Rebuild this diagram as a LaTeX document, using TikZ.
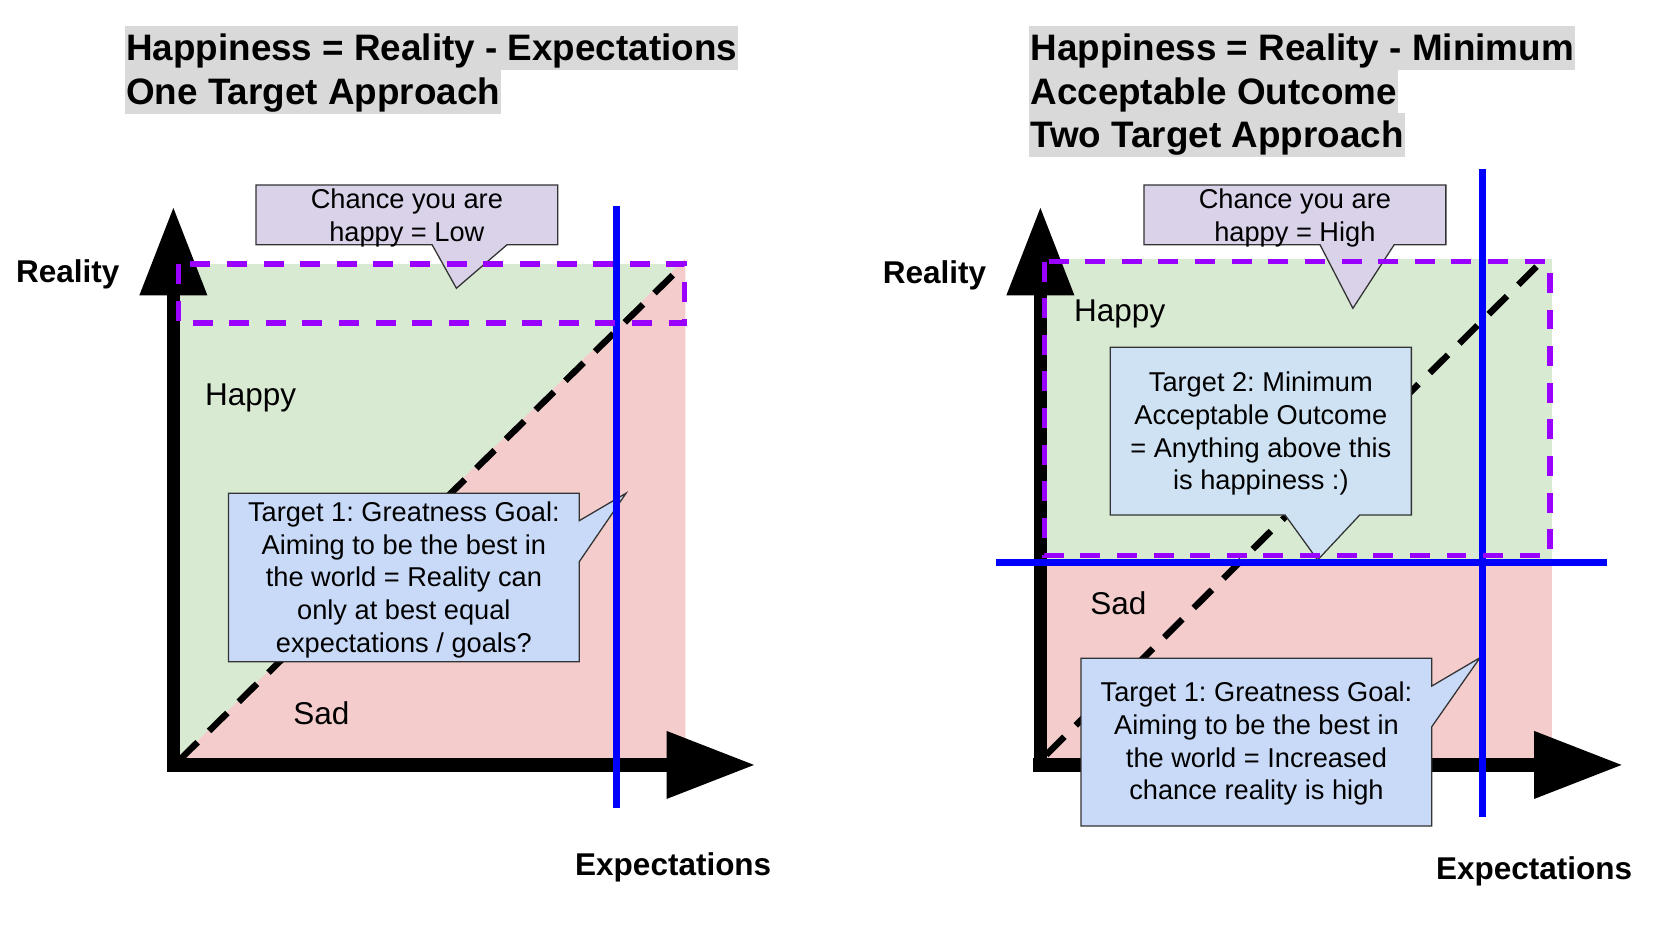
\documentclass[tikz,border=0pt]{standalone}
\usepackage{fontspec}
\setmainfont{Liberation Sans}
\usetikzlibrary{arrows.meta}
\frenchspacing
\definecolor{happyg}{HTML}{D9EAD3}
\definecolor{sadp}{HTML}{F4CCCC}
\definecolor{calpurp}{HTML}{D9D2E9}
\definecolor{calblue}{HTML}{C9DAF8}
\definecolor{calblueb}{HTML}{CFE2F3}
\definecolor{ttlgray}{HTML}{D9D9D9}
\definecolor{dashpurp}{HTML}{9900FF}
\definecolor{axblue}{HTML}{0000FF}
\begin{document}
\begin{tikzpicture}[x=1pt,y=-1pt,
  ttl/.style={fill=ttlgray,inner xsep=1pt,inner ysep=0pt,anchor=base west,font=\bfseries\fontsize{34.5}{41}\selectfont,text height=32.5pt,text depth=8.7pt},
  axlbl/.style={inner sep=0pt,anchor=base west,font=\bfseries\fontsize{29.5}{35}\selectfont},
  zone/.style={inner sep=0pt,anchor=base west,font=\fontsize{29.5}{35}\selectfont},
  ctext/.style={inner sep=0pt,align=center,font=\fontsize{25.5}{30.6}\selectfont},
  cshape/.style={draw=black!80,line width=1.2pt,line join=miter},
  axisln/.style={line width=12.5pt,-{Triangle[length=83pt,width=60pt]}},
  goal/.style={draw=axblue,line width=6pt},
  band/.style={draw=dashpurp,line width=4.8pt,dash pattern=on 18.7pt off 15.6pt},
  diag/.style={draw=black,line width=6pt,dash pattern=on 24pt off 15pt},
]
\useasboundingbox (0,0) rectangle (1568,867);

% ---------- titles ----------
\node[ttl] (tl1) at (117,57) {Happiness = Reality - Expectations};
\node[ttl] (tl2) at (117,97.8) {One Target Approach};
\node[ttl] (tr1) at (964,57) {Happiness = Reality - Minimum};
\node[ttl] (tr2) at (964,97.8) {Acceptable Outcome};
\node[ttl] (tr3) at (964,138.6) {Two Target Approach};

% ---------- left chart ----------
\fill[happyg] (162.4,247) rectangle (642,716.5);
\fill[sadp] (162.4,716.5) -- (642,242) -- (642,716.5) -- cycle;

\coordinate (Lo) at (156,716.5);
\coordinate (Lxt) at (707.4,716.5);
\coordinate (Lob) at (162.4,723);
\coordinate (Lyt) at (162.4,193.6);
\draw[axisln] (Lo) -- (Lxt);
\draw[axisln] (Lob) -- (Lyt);

\draw[diag] (168,712) -- (636,252);

\draw[cshape,fill=calblue] (214,462) -- (542.6,462) -- (542.6,487.7) -- (586.4,462) -- (542.6,526.1) -- (542.6,619.8) -- (214,619.8) -- cycle;
\node[ctext] (t1l) at (378.3,543.4) {\strut Target 1: Greatness Goal:\\\strut Aiming to be the best in\\\strut the world = Reality can\\\strut only at best equal\\\strut expectations / goals?};

\draw[cshape,fill=calpurp] (239.8,173.3) -- (522.5,173.3) -- (522.5,229.2) -- (475,229.2) -- (427.5,270) -- (404.7,229.2) -- (239.8,229.2) -- cycle;
\node[ctext] (c1l) at (381.1,204.6) {\strut Chance you are\\\strut happy = Low};

\draw[goal] (577.5,193) -- (577.5,757);
\draw[band] (167,247.3) rectangle (641.3,302.5);

\node[zone] (happyl) at (192,380) {Happy};
\node[zone] (sadl) at (274.6,679) {Sad};
\node[axlbl] (reall) at (15,264.5) {Reality};
\node[axlbl] (expl) at (538.6,819.6) {Expectations};

% ---------- right chart ----------
\fill[happyg] (974.5,243) rectangle (1454,527);
\fill[sadp] (974.5,527) rectangle (1454,716.5);

\coordinate (Ro) at (968,716.5);
\coordinate (Rxt) at (1520,716.5);
\coordinate (Rob) at (974.5,723);
\coordinate (Ryt) at (974.5,193.6);
\draw[axisln] (Ro) -- (Rxt);
\draw[axisln] (Rob) -- (Ryt);

\draw[diag] (980,707) -- (1444,245);

\draw[cshape,fill=calblueb] (1039.9,325.3) -- (1322,325.3) -- (1322,482.4) -- (1273.6,482.4) -- (1234.2,524.5) -- (1203.7,482.4) -- (1039.9,482.4) -- cycle;
\node[ctext] (t2r) at (1181,406.8) {\strut Target 2: Minimum\\\strut Acceptable Outcome\\\strut = Anything above this\\\strut is happiness :)};

\draw[cshape,fill=calblue] (1012.6,616.6) -- (1341.1,616.6) -- (1341.1,642.6) -- (1386.3,616) -- (1341.1,680.7) -- (1341.1,773.7) -- (1012.6,773.7) -- cycle;
\node[ctext] (t1r) at (1176.9,697.2) {\strut Target 1: Greatness Goal:\\\strut Aiming to be the best in\\\strut the world = Increased\\\strut chance reality is high};

\draw[cshape,fill=calpurp] (1071.5,173.3) -- (1354.3,173.3) -- (1354.3,229.2) -- (1305.9,229.2) -- (1267.2,288.8) -- (1236.4,229.2) -- (1071.5,229.2) -- cycle;
\node[ctext] (c1r) at (1212.9,204.6) {\strut Chance you are\\\strut happy = High};

\draw[goal] (1388.5,158) -- (1388.5,765);
\draw[goal] (933,527) -- (1505,527);
\draw[band] (978.6,245) rectangle (1451.8,520.4);

\node[zone] (happyr) at (1006,301.3) {Happy};
\node[zone] (sadr) at (1021,576) {Sad};
\node[axlbl] (realr) at (826.8,265.4) {Reality};
\node[axlbl] (expr) at (1345,823.6) {Expectations};
\end{tikzpicture}
\end{document}
